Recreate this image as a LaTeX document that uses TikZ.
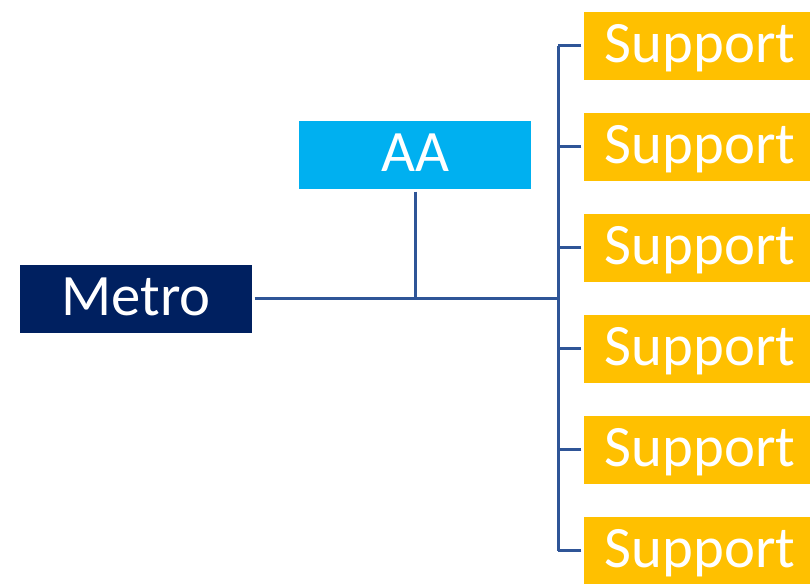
\documentclass[tikz,border=0pt]{standalone}
\usepackage{fontspec}
\setmainfont{Carlito}
\usepackage{tikz}
\usepackage{xcolor}
\usetikzlibrary{positioning, calc}
\definecolor{metroblue}{HTML}{002060}
\definecolor{aacyan}{HTML}{00B0F0}
\definecolor{supportgold}{HTML}{FFC000}
\definecolor{linkblue}{HTML}{2F5597}
\tikzset{
    orgbox/.style={minimum width=174pt, minimum height=51pt, inner sep=0pt, outer sep=2pt,
        text height=30pt, text depth=4.5pt,
        text=white, font=\fontsize{44}{52}\selectfont},
    link/.style={draw=linkblue, line width=2.25pt}
}

\begin{document}
\begin{tikzpicture}[x=0.75pt, y=0.75pt]
                        \useasboundingbox (0, 0) rectangle (810, 584);
                        \clip (0, 0) rectangle (810, 584);

                        \node[orgbox, fill=metroblue] (metro) at (136, 285) {Metro};
                        \node[orgbox, fill=aacyan] (aa) at (415, 429) {AA};
                        \foreach \i in {0, ..., 5}
                            \node[orgbox, fill=supportgold] (s\i) at (700, 538 - 101*\i) {Support};
                        \coordinate (trunk) at (558, 0);

                        \draw[link] (metro.east) -- (metro.east -| trunk);
                        \draw[link] (aa.south) -- (aa.south |- metro.east);
                        \foreach \i in {0, ..., 5}
                            \draw[link] (s\i.west) -- (s\i.west -| trunk);
                        \draw[link] (s0.west -| trunk) -- (s5.west -| trunk);
                    \end{tikzpicture}
\end{document}
